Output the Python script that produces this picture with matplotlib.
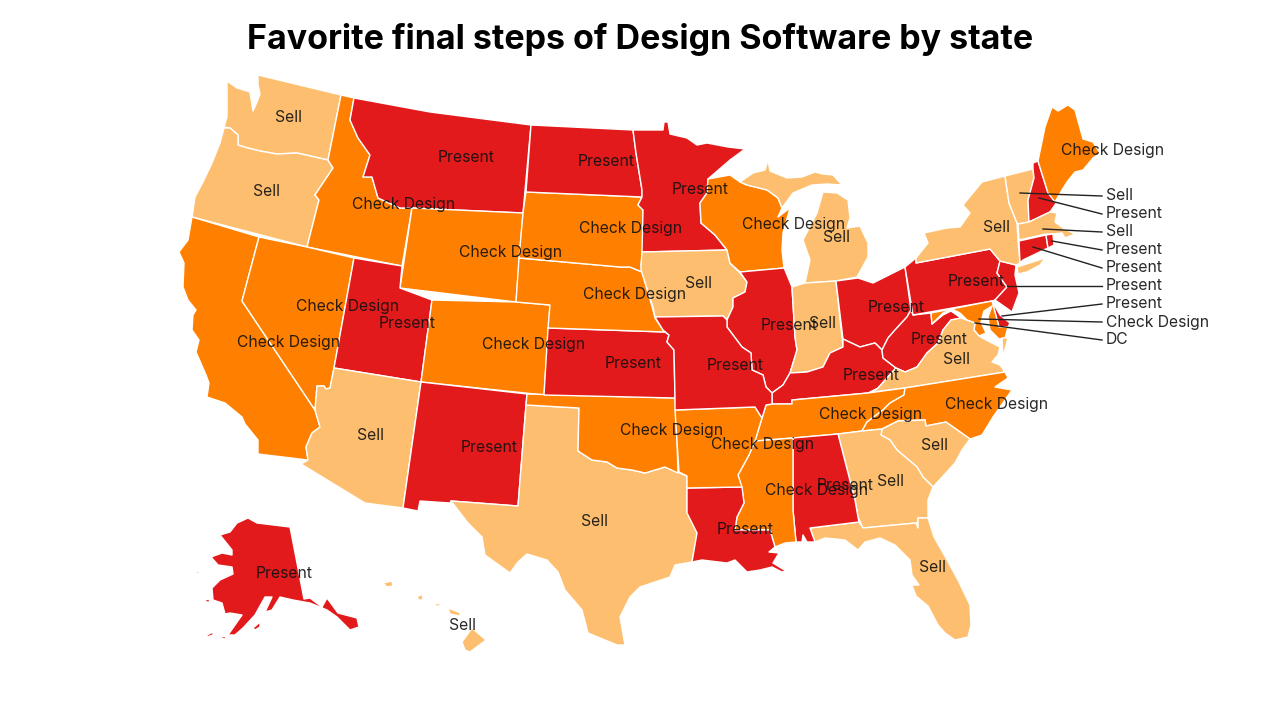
import matplotlib
matplotlib.use('Agg')
import matplotlib.pyplot as plt

# category of every state
sell = ['WA', 'OR', 'AZ', 'TX', 'IA', 'IN', 'MI', 'NY', 'VT', 'MA', 'VA', 'GA', 'SC', 'FL', 'HI']
present = ['MT', 'ND', 'MN', 'UT', 'NM', 'KS', 'MO', 'IL', 'OH', 'KY', 'WV', 'PA', 'NJ', 'DE', 'CT', 'RI',
           'NH', 'LA', 'AL', 'AK']
check_design = ['CA', 'NV', 'ID', 'WY', 'CO', 'SD', 'NE', 'OK', 'AR', 'MS', 'TN', 'NC', 'WI', 'MD', 'ME']

# state outlines (pixel units)
WA = [[(258,75),(341,95),(328,160),(297,153),(277,154),(260,151),(248,148),(238,145),(238,135),(230,128),(224,127),
       (227,117),(227,81),(237,88),(250,92),(253,111),(257,102),(260,94),(258,85)]]
OR = [[(224,128),(230,128),(238,135),(238,145),(248,148),(260,151),(277,154),(297,153),(328,160),(333,168),(323,183),
       (315,195),(319,200),(307,247),(192,217),(195,197),(203,182),(212,163),(220,143)]]
ID = [[(341,95),(354,98),(350,120),(358,138),(370,155),(363,177),(372,177),(378,198),(400,208),(412,208),(402,266),
       (307,247),(319,200),(315,195),(323,183),(333,168),(328,160)]]
MT = [[(354,98),(430,112),(531,125),(523,213),(412,208),(400,208),(378,198),(372,177),(363,177),(370,155),(358,138),
       (350,120)]]
WY = [[(412,208),(523,213),(516,302),(400,288)]]
CA = [[(192,217),(259,237),(242,301),(315,410),(320,427),(312,433),(306,447),(308,460),(258,454),(258,440),(245,424),
       (242,417),(225,403),(207,397),(209,383),(206,375),(196,352),(199,340),(192,330),(193,315),(196,310),(188,300),
       (183,287),(184,263),(179,252),(188,240)]]
NV = [[(259,237),(307,247),(354,258),(334,368),(330,388),(326,389),(324,386),(317,386),(315,410),(242,301)]]
UT = [[(354,258),(402,266),(400,288),(432,300),(421,382),(334,368)]]
CO = [[(432,300),(516,302),(550,305),(544,395),(421,382)]]
AZ = [[(334,368),(421,382),(403,508),(365,503),(301,464),(308,460),(306,447),(312,433),(320,427),(315,410),(317,386),
       (324,386),(326,389),(330,388)]]
NM = [[(421,382),(527,394),(526,405),(518,506),(451,501),(450,503),(420,501),(418,511),(403,508)]]
TX = [[(526,405),(579,408),(578,451),(592,460),(607,462),(617,468),(632,470),(645,473),(665,467),(687,476),(687,512),
       (698,530),(692,562),(675,565),(670,577),(640,587),(630,597),(620,617),(625,645),(617,645),(588,633),(582,610),
       (565,590),(558,572),(547,560),(527,554),(518,562),(510,573),(485,555),(482,537),(468,523),(451,501),(518,506)]]
OK = [[(527,394),(675,398),(676,410),(678,473),(665,467),(645,473),(632,470),(617,468),(607,462),(592,460),(578,451),
       (579,408),(526,405)]]
KS = [[(548,328),(665,332),(669,335),(667,342),(674,350),(675,398),(544,395)]]
NE = [[(519,258),(620,267),(630,267),(642,272),(653,310),(655,318),(663,330),(665,332),(548,328),(550,305),(516,302)]]
SD = [[(526,192),(642,197),(638,205),(643,210),(643,252),(641,265),(642,272),(630,267),(620,267),(519,258),(523,213)]]
ND = [[(531,125),(633,130),(636,153),(642,190),(642,197),(526,192)]]
MN = [[(633,130),(663,130),(664,122),(668,122),(670,134),(687,138),(697,145),(707,143),(728,147),(745,149),(730,160),
       (708,179),(707,193),(700,203),(701,223),(715,235),(727,250),(642,252),(643,210),(638,205),(642,197),(642,190),
       (636,153)]]
IA = [[(642,252),(727,250),(730,263),(740,273),(747,282),(745,292),(733,298),(733,307),(727,320),(723,316),(655,317),
       (653,307),(641,270),(641,265)]]
WI = [[(708,179),(730,175),(740,182),(747,185),(767,190),(778,198),(782,208),(778,217),(790,208),(783,233),(782,250),
       (784,268),(740,272),(730,263),(727,250),(715,235),(701,223),(700,203),(707,193)]]
MI = [[(740,182),(753,173),(765,170),(768,160),(770,171),(787,178),(802,177),(815,172),(823,174),(833,175),(842,185),
       (827,184),(812,185),(793,193),(782,208),(778,198),(767,190),(747,185)],
      [(823,192),(837,193),(848,200),(850,218),(847,228),(860,226),(868,243),(868,257),(857,277),(836,281),(805,283),
       (810,260),(803,240),(817,213)]]
IL = [[(740,272),(784,268),(785,270),(792,287),(795,337),(797,350),(790,373),(783,385),(772,393),(766,387),(763,375),
       (752,370),(751,353),(742,347),(727,327),(727,320),(733,307),(733,298),(745,292),(747,282)]]
IN = [[(792,287),(805,283),(836,281),(843,347),(830,353),(823,367),(807,372),(790,373),(797,350),(795,337)]]
OH = [[(836,281),(858,278),(873,283),(905,267),(911,310),(907,317),(895,330),(888,338),(882,350),(875,343),(860,347),
       (843,339)]]
KY = [[(843,339),(860,347),(875,343),(882,350),(883,358),(896,368),(878,388),(868,393),(792,400),(792,404),(772,404),
       (772,393),(783,385),(790,373),(807,372),(823,367),(830,353),(843,347)]]
WV = [[(911,310),(913,315),(931,313),(932,324),(943,315),(951,311),(961,318),(951,320),(943,330),(938,343),(927,353),
       (917,367),(905,372),(896,368),(883,358),(882,350),(888,338),(895,330),(907,317)]]
PA = [[(905,267),(916,258),(916,263),(990,249),(1000,261),(997,273),(1007,287),(995,300),(992,301),(913,315)]]
NJ = [[(1000,261),(1016,265),(1015,275),(1019,293),(1012,312),(1005,307),(995,300),(1007,287),(997,273)]]
DE = [[(992,301),(1000,315),(1010,323),(1008,327),(999,327)]]
MD = [[(931,313),(992,301),(999,327),(1008,327),(1005,338),(999,339),(990,330),(988,317),(992,306),(984,311),(981,322),
       (986,333),(979,336),(974,330),(975,323),(967,320),(960,313),(952,309),(943,313),(932,324)]]
VA = [[(975,323),(974,330),(979,336),(986,340),(1000,347),(998,355),(992,362),(1000,365),(1005,372),(905,388),(873,392),
       (878,388),(896,368),(905,372),(917,367),(927,353),(938,343),(943,330),(951,320),(961,318)],
      [(1002,338),(1008,338),(1003,357)]]
TN = [[(766,405),(772,404),(792,404),(792,400),(868,393),(905,388),(904,395),(890,403),(883,410),(867,422),(862,431),
       (838,434),(793,438),(755,441),(762,418)]]
NC = [[(905,388),(1005,372),(1008,378),(995,387),(1012,390),(993,417),(982,435),(970,439),(946,422),(926,426),(925,420),
       (898,421),(882,429),(862,431),(867,422),(883,410),(890,403),(904,395)]]
SC = [[(882,429),(898,421),(925,420),(926,426),(946,422),(970,439),(962,450),(955,463),(933,487),(923,477),(917,467),
       (897,450),(890,440),(881,435)]]
GA = [[(838,434),(862,431),(882,429),(881,435),(890,440),(897,450),(917,467),(923,477),(933,487),(928,500),(928,518),
       (918,518),(918,528),(916,523),(863,528),(858,517),(855,500)]]
FL = [[(810,528),(859,522),(863,528),(916,523),(918,528),(918,518),(928,518),(934,537),(946,558),(958,580),(970,605),
       (971,625),(968,637),(955,640),(945,633),(938,625),(928,606),(916,596),(912,585),(919,585),(912,575),(910,560),
       (895,545),(880,538),(865,542),(858,550),(845,540),(825,538),(815,542)]]
AL = [[(793,438),(838,434),(855,500),(858,517),(859,522),(810,528),(815,542),(807,542),(803,535),(802,542),(796,542),
       (793,510)]]
MS = [[(755,441),(793,438),(793,510),(796,542),(785,543),(775,547),(770,530),(735,530),(737,517),(744,503),(742,490),
       (738,475),(749,455)]]
LA = [[(687,488),(742,487),(744,503),(737,517),(735,530),(770,530),(775,547),(769,552),(779,553),(773,563),(786,571),
       (782,572),(772,567),(760,570),(747,572),(735,560),(727,563),(702,560),(692,562),(697,533),(687,513)]]
AR = [[(675,410),(755,407),(762,418),(755,441),(749,455),(738,475),(742,487),(687,488),(687,476),(679,472)]]
MO = [[(655,317),(723,316),(727,320),(727,327),(742,347),(751,353),(752,370),(763,375),(766,387),(772,393),(772,404),
       (766,405),(762,418),(755,407),(675,410),(675,398),(674,350),(667,342),(669,335),(663,330)]]
NY = [[(916,258),(928,243),(924,233),(947,228),(960,227),(970,213),(963,205),(982,182),(1005,176),(1009,203),(1017,223),
       (1018,240),(1020,263),(1016,265),(1000,261),(990,249),(916,263)],
      [(1017,267),(1045,258),(1040,265),(1027,272),(1018,274)]]
VT = [[(1005,176),(1033,169),(1034,178),(1028,200),(1029,222),(1018,224),(1017,223),(1009,203)]]
NH = [[(1033,163),(1038,161),(1048,193),(1057,202),(1050,212),(1029,222),(1028,200),(1034,178),(1033,169)]]
ME = [[(1038,161),(1045,127),(1052,107),(1058,111),(1068,105),(1075,110),(1083,139),(1093,142),(1100,153),(1093,158),
       (1083,170),(1075,172),(1067,182),(1062,190),(1055,202),(1048,193)]]
MA = [[(1018,224),(1029,222),(1050,212),(1057,213),(1055,222),(1063,228),(1075,234),(1065,238),(1062,233),(1053,234),
       (1046,234),(1019,240)]]
CT = [[(1019,241),(1046,235),(1048,248),(1023,260),(1020,263)]]
RI = [[(1046,235),(1053,234),(1054,245),(1048,248)]]
AK = [[(248,518),(257,523),(290,527),(304,599),(310,598),(322,607),(327,598),(338,613),(357,618),(359,627),(350,630),
       (337,617),(327,610),(310,603),(293,600),(280,597),(272,610),(265,612),(272,597),(265,597),(255,615),(243,628),
       (235,635),(228,635),(242,615),(230,613),(225,614),(222,603),(213,600),(212,588),(220,580),(233,574),(232,567),
       (218,565),(211,557),(222,553),(232,555),(232,550),(220,535),(230,532),(237,523)],
      [(253,628),(260,622),(260,627),(255,630)],
      [(207,635),(213,632),(213,635),(207,637)],
      [(218,638),(226,636),(225,639)],
      [(195,570),(199,572),(202,574),(197,573)],
      [(205,600),(209,599),(210,602),(206,602)],
      [(187,652),(190,650),(190,652)]]
HI = [[(472,628),(486,640),(470,652),(465,650),(462,642)],
      [(448,608),(456,611),(461,613),(459,616),(450,614)],
      [(417,597),(422,594),(423,600),(419,600)],
      [(383,583),(392,581),(393,586),(387,587)],
      [(435,603),(440,604),(440,606),(436,606)]]

outlines = [WA, OR, ID, MT, WY, CA, NV, UT, CO, AZ, NM, TX, OK, KS, NE, SD, ND, MN, IA, WI, MI, IL, IN, OH, KY, WV, PA,
            NJ, DE, MD, VA, TN, NC, SC, GA, FL, AL, MS, LA, AR, MO, NY, VT, NH, ME, MA, CT, RI, AK, HI]
names = ['WA', 'OR', 'ID', 'MT', 'WY', 'CA', 'NV', 'UT', 'CO', 'AZ', 'NM', 'TX', 'OK', 'KS', 'NE', 'SD', 'ND', 'MN', 'IA',
         'WI', 'MI', 'IL', 'IN', 'OH', 'KY', 'WV', 'PA', 'NJ', 'DE', 'MD', 'VA', 'TN', 'NC', 'SC', 'GA', 'FL', 'AL', 'MS',
         'LA', 'AR', 'MO', 'NY', 'VT', 'NH', 'ME', 'MA', 'CT', 'RI', 'AK', 'HI']

# labels sitting on the map
map_labels = ['Sell', 'Sell', 'Check Design', 'Present', 'Present', 'Present', 'Check Design', 'Sell', 'Check Design',
              'Check Design', 'Check Design', 'Sell', 'Check Design', 'Present', 'Check Design', 'Check Design',
              'Present', 'Sell', 'Present', 'Present', 'Sell', 'Check Design', 'Present', 'Present', 'Present',
              'Present', 'Sell', 'Check Design', 'Check Design', 'Check Design', 'Check Design', 'Sell', 'Present',
              'Sell', 'Check Design', 'Present', 'Sell', 'Sell', 'Present', 'Sell', 'Present', 'Sell']
map_label_x = [289, 267, 404, 466, 606, 700, 794, 836, 631, 511, 635, 698, 348, 407, 289, 534, 789, 822, 896, 976, 996,
               1113, 633, 735, 871, 939, 957, 997, 871, 763, 672, 371, 489, 594, 817, 845, 891, 934, 745, 932, 284, 463]
map_label_y = [117, 191, 204, 157, 161, 189, 224, 237, 229, 252, 294, 283, 307, 324, 342, 344, 325, 324, 308, 281, 228,
               151, 364, 366, 376, 340, 359, 404, 415, 445, 430, 436, 447, 521, 490, 485, 481, 446, 530, 567, 574, 626]

# labels with a leader line
side_labels = ['Sell', 'Present', 'Sell', 'Present', 'Present', 'Present', 'Present', 'Check Design', 'DC']
side_y = [196, 214, 232, 250, 268, 286, 304, 322, 340]
leader_x = [1020, 1039, 1043, 1052, 1033, 1007, 1002, 979, 975]
leader_y = [193, 198, 229, 241, 247, 286, 316, 319, 323]

colors = {'sell': '#FDBF6F', 'present': '#E31A1C', 'check': '#FF7F00'}

plt.rcParams['font.family'] = ['Inter', 'DejaVu Sans']
fig = plt.figure(figsize=(12.8, 7.2), dpi=100)
ax = fig.add_axes([0, 0, 1, 1])
ax.set_xlim(0, 1280)
ax.set_ylim(720, 0)
ax.axis('off')

for name, outline in zip(names, outlines):
    if name in sell:
        c = colors['sell']
    elif name in present:
        c = colors['present']
    else:
        c = colors['check']
    for part in outline:
        xs = [p[0] for p in part]
        ys = [p[1] for p in part]
        ax.fill(xs, ys, facecolor=c, edgecolor='white', linewidth=1, joinstyle='round')

for x, y, s in zip(map_label_x, map_label_y, map_labels):
    ax.text(x, y, s, ha='center', va='center', fontsize=11.3, color='#111111', alpha=0.9)

for y, x0, y0, s in zip(side_y, leader_x, leader_y, side_labels):
    ax.plot([x0, 1102], [y0, y], color='#222222', linewidth=1)
    ax.text(1106, y, s, ha='left', va='center', fontsize=11.3, color='#111111', alpha=0.9)

ax.text(640, 40, 'Favorite final steps of Design Software by state', ha='center', va='center',
        fontsize=24.5, fontweight='bold', color='black')

fig.savefig('out.png', dpi=100)
